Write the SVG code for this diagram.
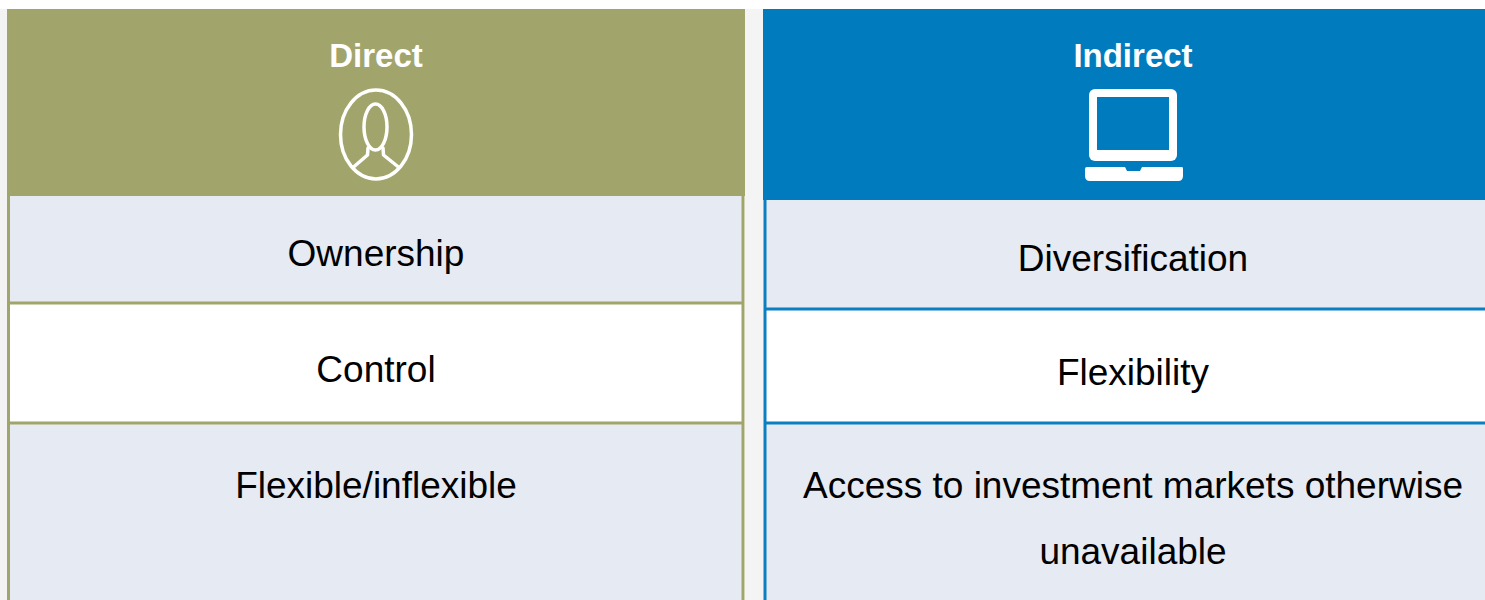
<svg xmlns="http://www.w3.org/2000/svg" width="1485" height="600" viewBox="0 0 1485 600">
<style>
.hdr{font-family:"Liberation Sans",Arial,sans-serif;font-weight:bold;font-size:33px;fill:#ffffff;text-anchor:middle}
.cell{font-family:"Liberation Sans",Arial,sans-serif;font-size:37px;fill:#000000;text-anchor:middle}
.olive{stroke:#a2a56b;stroke-width:3;fill:none}
.blue{stroke:#0a7fc1;stroke-width:3;fill:none}
.icon{stroke:#ffffff;stroke-width:3.5;fill:none;stroke-linejoin:round;stroke-linecap:round}
</style>
<rect x="0" y="0" width="1485" height="600" fill="#ffffff"/>
<rect x="0" y="9" width="7" height="591" fill="#f3f3f3"/>
<rect x="745" y="9" width="19" height="591" fill="#f4f4f4"/>
<g id="direct">
  <rect x="7" y="9" width="738" height="187" fill="#a2a56b"/>
  <text class="hdr" x="376" y="67">Direct</text>
  <g id="person-icon">
    <ellipse class="icon" cx="376" cy="134.5" rx="35.5" ry="44.5"/>
    <ellipse class="icon" cx="375.5" cy="127" rx="11.5" ry="23"/>
    <path class="icon" d="M368,148 L367.5,155 L353,167.5 M383,148 L383.5,155 L399,167.5"/>
  </g>
</g>
<g id="direct-ownership">
  <rect x="8.5" y="196" width="734" height="107" fill="#e6eaf2"/>
  <text class="cell" x="376" y="266">Ownership</text>
</g>
<g id="direct-control">
  <rect x="8.5" y="303" width="734" height="120" fill="#ffffff"/>
  <text class="cell" x="376" y="382">Control</text>
</g>
<g id="direct-flexible">
  <rect x="8.5" y="423" width="734" height="180" fill="#e6eaf2"/>
  <text class="cell" x="376" y="498">Flexible/inflexible</text>
</g>
<g id="indirect">
  <rect x="763" y="9" width="722" height="191" fill="#007bbd"/>
  <text class="hdr" x="1133" y="67">Indirect</text>
  <g id="laptop-icon">
    <rect x="1089" y="89" width="88" height="72" rx="6" fill="#ffffff"/>
    <rect x="1097" y="97" width="72" height="53" fill="#007bbd"/>
    <path d="M1089,167 L1125,167 L1127,171 L1140,171 L1142,167 L1182,167 Q1183,167 1183,169 L1183,176 Q1183,181 1178,181 L1090,181 Q1085,181 1085,176 L1085,169 Q1085,167 1087,167 Z" fill="#ffffff"/>
  </g>
</g>
<g id="indirect-diversification">
  <rect x="766" y="200" width="720" height="109" fill="#e6eaf2"/>
  <text class="cell" x="1133" y="271">Diversification</text>
</g>
<g id="indirect-flexibility">
  <rect x="766" y="309" width="720" height="114" fill="#ffffff"/>
  <text class="cell" x="1133" y="385">Flexibility</text>
</g>
<g id="indirect-access">
  <rect x="766" y="423" width="720" height="180" fill="#e6eaf2"/>
  <text class="cell" x="1133" y="498">Access to investment markets otherwise</text>
  <text class="cell" x="1133" y="564">unavailable</text>
</g>
<g id="connectors">
  <path class="olive" d="M8.5,196 L8.5,600 M743,196 L743,600 M8.5,303 L743,303 M8.5,423 L743,423"/>
  <path class="blue" d="M765,200 L765,600 M765,309 L1485,309 M765,423 L1485,423"/>
</g>
</svg>
